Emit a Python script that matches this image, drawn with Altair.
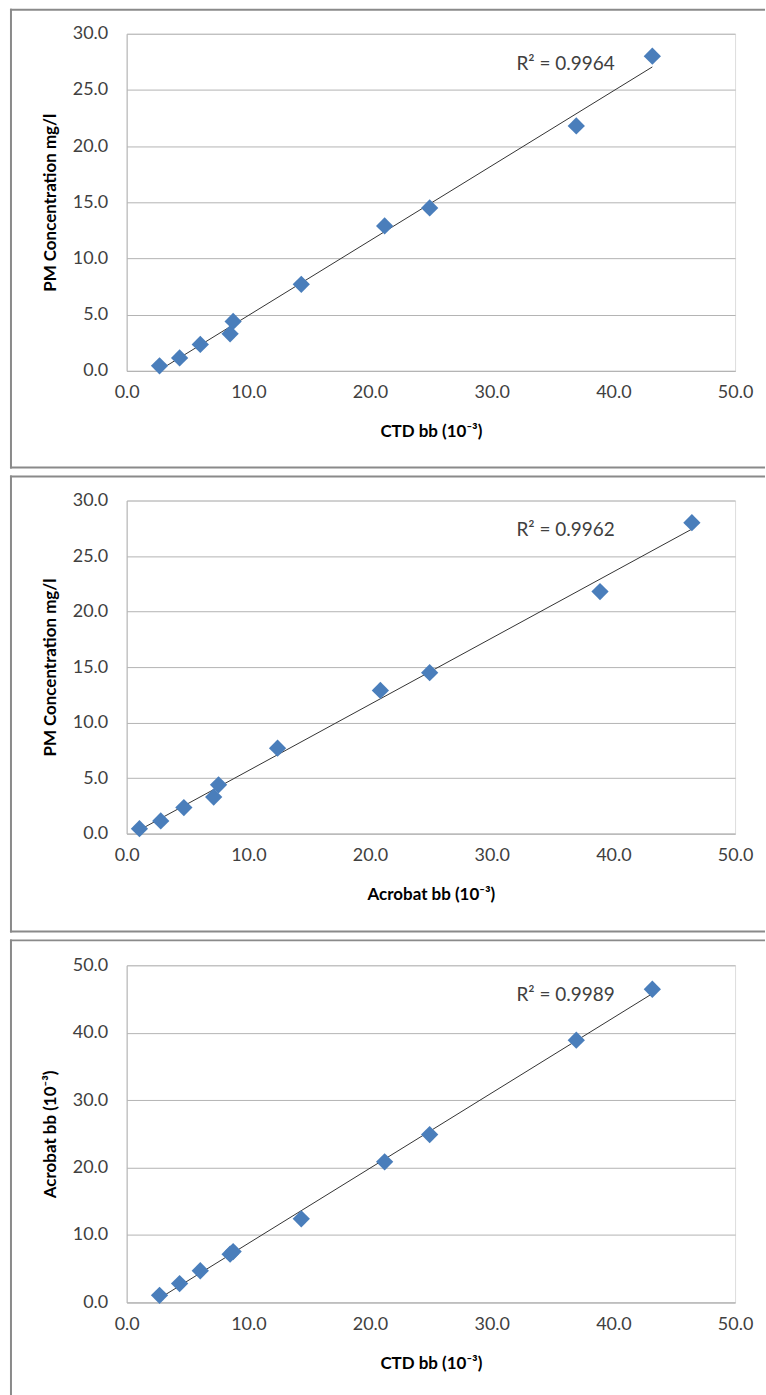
import altair as alt
import pandas as pd

# Backscatter readings (10^-3) and particulate matter concentration (mg/l)
ctd_bb = [2.7, 4.35, 6.05, 8.5, 8.75, 14.35, 21.2, 24.9, 36.95, 43.2]
acrobat_bb = [1.05, 2.8, 4.7, 7.15, 7.55, 12.4, 20.85, 24.9, 38.9, 46.45]
pm_conc = [0.45, 1.15, 2.35, 3.3, 4.4, 7.7, 12.9, 14.5, 21.8, 28.0]

r2_labels = ["R² = 0.9964", "R² = 0.9962", "R² = 0.9989"]
x_ticks = [0, 10, 20, 30, 40, 50]
pm_ticks = [0, 5, 10, 15, 20, 25, 30]
acrobat_ticks = [0, 10, 20, 30, 40, 50]

df = pd.DataFrame({"ctd": ctd_bb, "acrobat": acrobat_bb, "pm": pm_conc})

FONT = "Lato"
TXT = "#404040"
GRID = "#b4b4b4"
BLUE = "#4a7ebb"
FRAME = "#8a8a8a"
W = 610


def panel(xf, yf, xtitle, ytitle, ydom, yvals, h, label, box_top, box_bottom, closed=True):
    xs = alt.Scale(domain=[0, 50], nice=False, zero=True)
    ys = alt.Scale(domain=ydom, nice=False, zero=True)
    xaxis = alt.Axis(
        title=xtitle, values=x_ticks, format=".1f", grid=False, ticks=False,
        tickSize=0, domainColor=GRID, domainWidth=1, labelFlush=False,
        labelFont=FONT, labelFontSize=18, labelColor=TXT, labelPadding=13,
        titleFont=FONT, titleFontSize=17, titleFontWeight="bold", titleColor="#000",
        titleX=W / 2, titleY=61, titleBaseline="middle", titleAlign="center",
    )
    yaxis = alt.Axis(
        title=ytitle, values=yvals, format=".1f", grid=True, gridColor=GRID,
        gridWidth=1, ticks=False, tickSize=0, domainColor=GRID, domainWidth=1,
        labelFlush=False,
        labelFont=FONT, labelFontSize=18, labelColor=TXT, labelPadding=19,
        titleFont=FONT, titleFontSize=17, titleFontWeight="bold", titleColor="#000",
        titleX=-76, titleY=h / 2, titleAngle=270, titleBaseline="middle",
        titleAlign="center",
    )
    base = alt.Chart(df)
    pts = base.mark_point(shape="diamond", filled=True, size=300, color=BLUE, opacity=1).encode(
        x=alt.X(f"{xf}:Q", scale=xs, axis=xaxis),
        y=alt.Y(f"{yf}:Q", scale=ys, axis=yaxis),
    )
    trend = base.transform_regression(xf, yf, method="linear").mark_line(
        color="#333333", strokeWidth=1
    ).encode(x=alt.X(f"{xf}:Q", scale=xs), y=alt.Y(f"{yf}:Q", scale=ys))
    one = alt.Data(values=[{}])
    txt = alt.Chart(one).mark_text(
        text=label, font=FONT, fontSize=19, color=TXT, align="center", baseline="middle"
    ).encode(x=alt.value(440), y=alt.value(30))
    rule_style = dict(color=FRAME, strokeWidth=2, strokeCap="square")
    top = alt.Chart(one).mark_rule(**rule_style).encode(
        x=alt.value(-116), x2=alt.value(639), y=alt.value(box_top))
    left = alt.Chart(one).mark_rule(**rule_style).encode(
        x=alt.value(-116), y=alt.value(box_top), y2=alt.value(box_bottom))
    layers = [top, left]
    if closed:
        bottom = alt.Chart(one).mark_rule(**rule_style).encode(
            x=alt.value(-116), x2=alt.value(639), y=alt.value(box_bottom))
        layers.append(bottom)
    return alt.layer(*layers, trend, pts, txt).properties(width=W, height=h)


p1 = panel("ctd", "pm", "CTD bb (10⁻³)", "PM Concentration mg/l", [0, 30], pm_ticks,
           338, r2_labels[0], -24, 435)
p2 = panel("acrobat", "pm", "Acrobat bb (10⁻³)", "PM Concentration mg/l", [0, 30], pm_ticks,
           334, r2_labels[1], -24, 432)
p3 = panel("ctd", "acrobat", "CTD bb (10⁻³)", "Acrobat bb (10⁻³)", [0, 50], acrobat_ticks,
           338, r2_labels[2], -25, 433, closed=False)

chart = alt.vconcat(p1, p2, p3, spacing=5).properties(
    padding={"left": 9, "top": 6, "right": 0, "bottom": 0}
).configure_view(stroke=None).configure(background="white")

chart.save("out.html", embed_options={"renderer": "svg", "actions": False})
